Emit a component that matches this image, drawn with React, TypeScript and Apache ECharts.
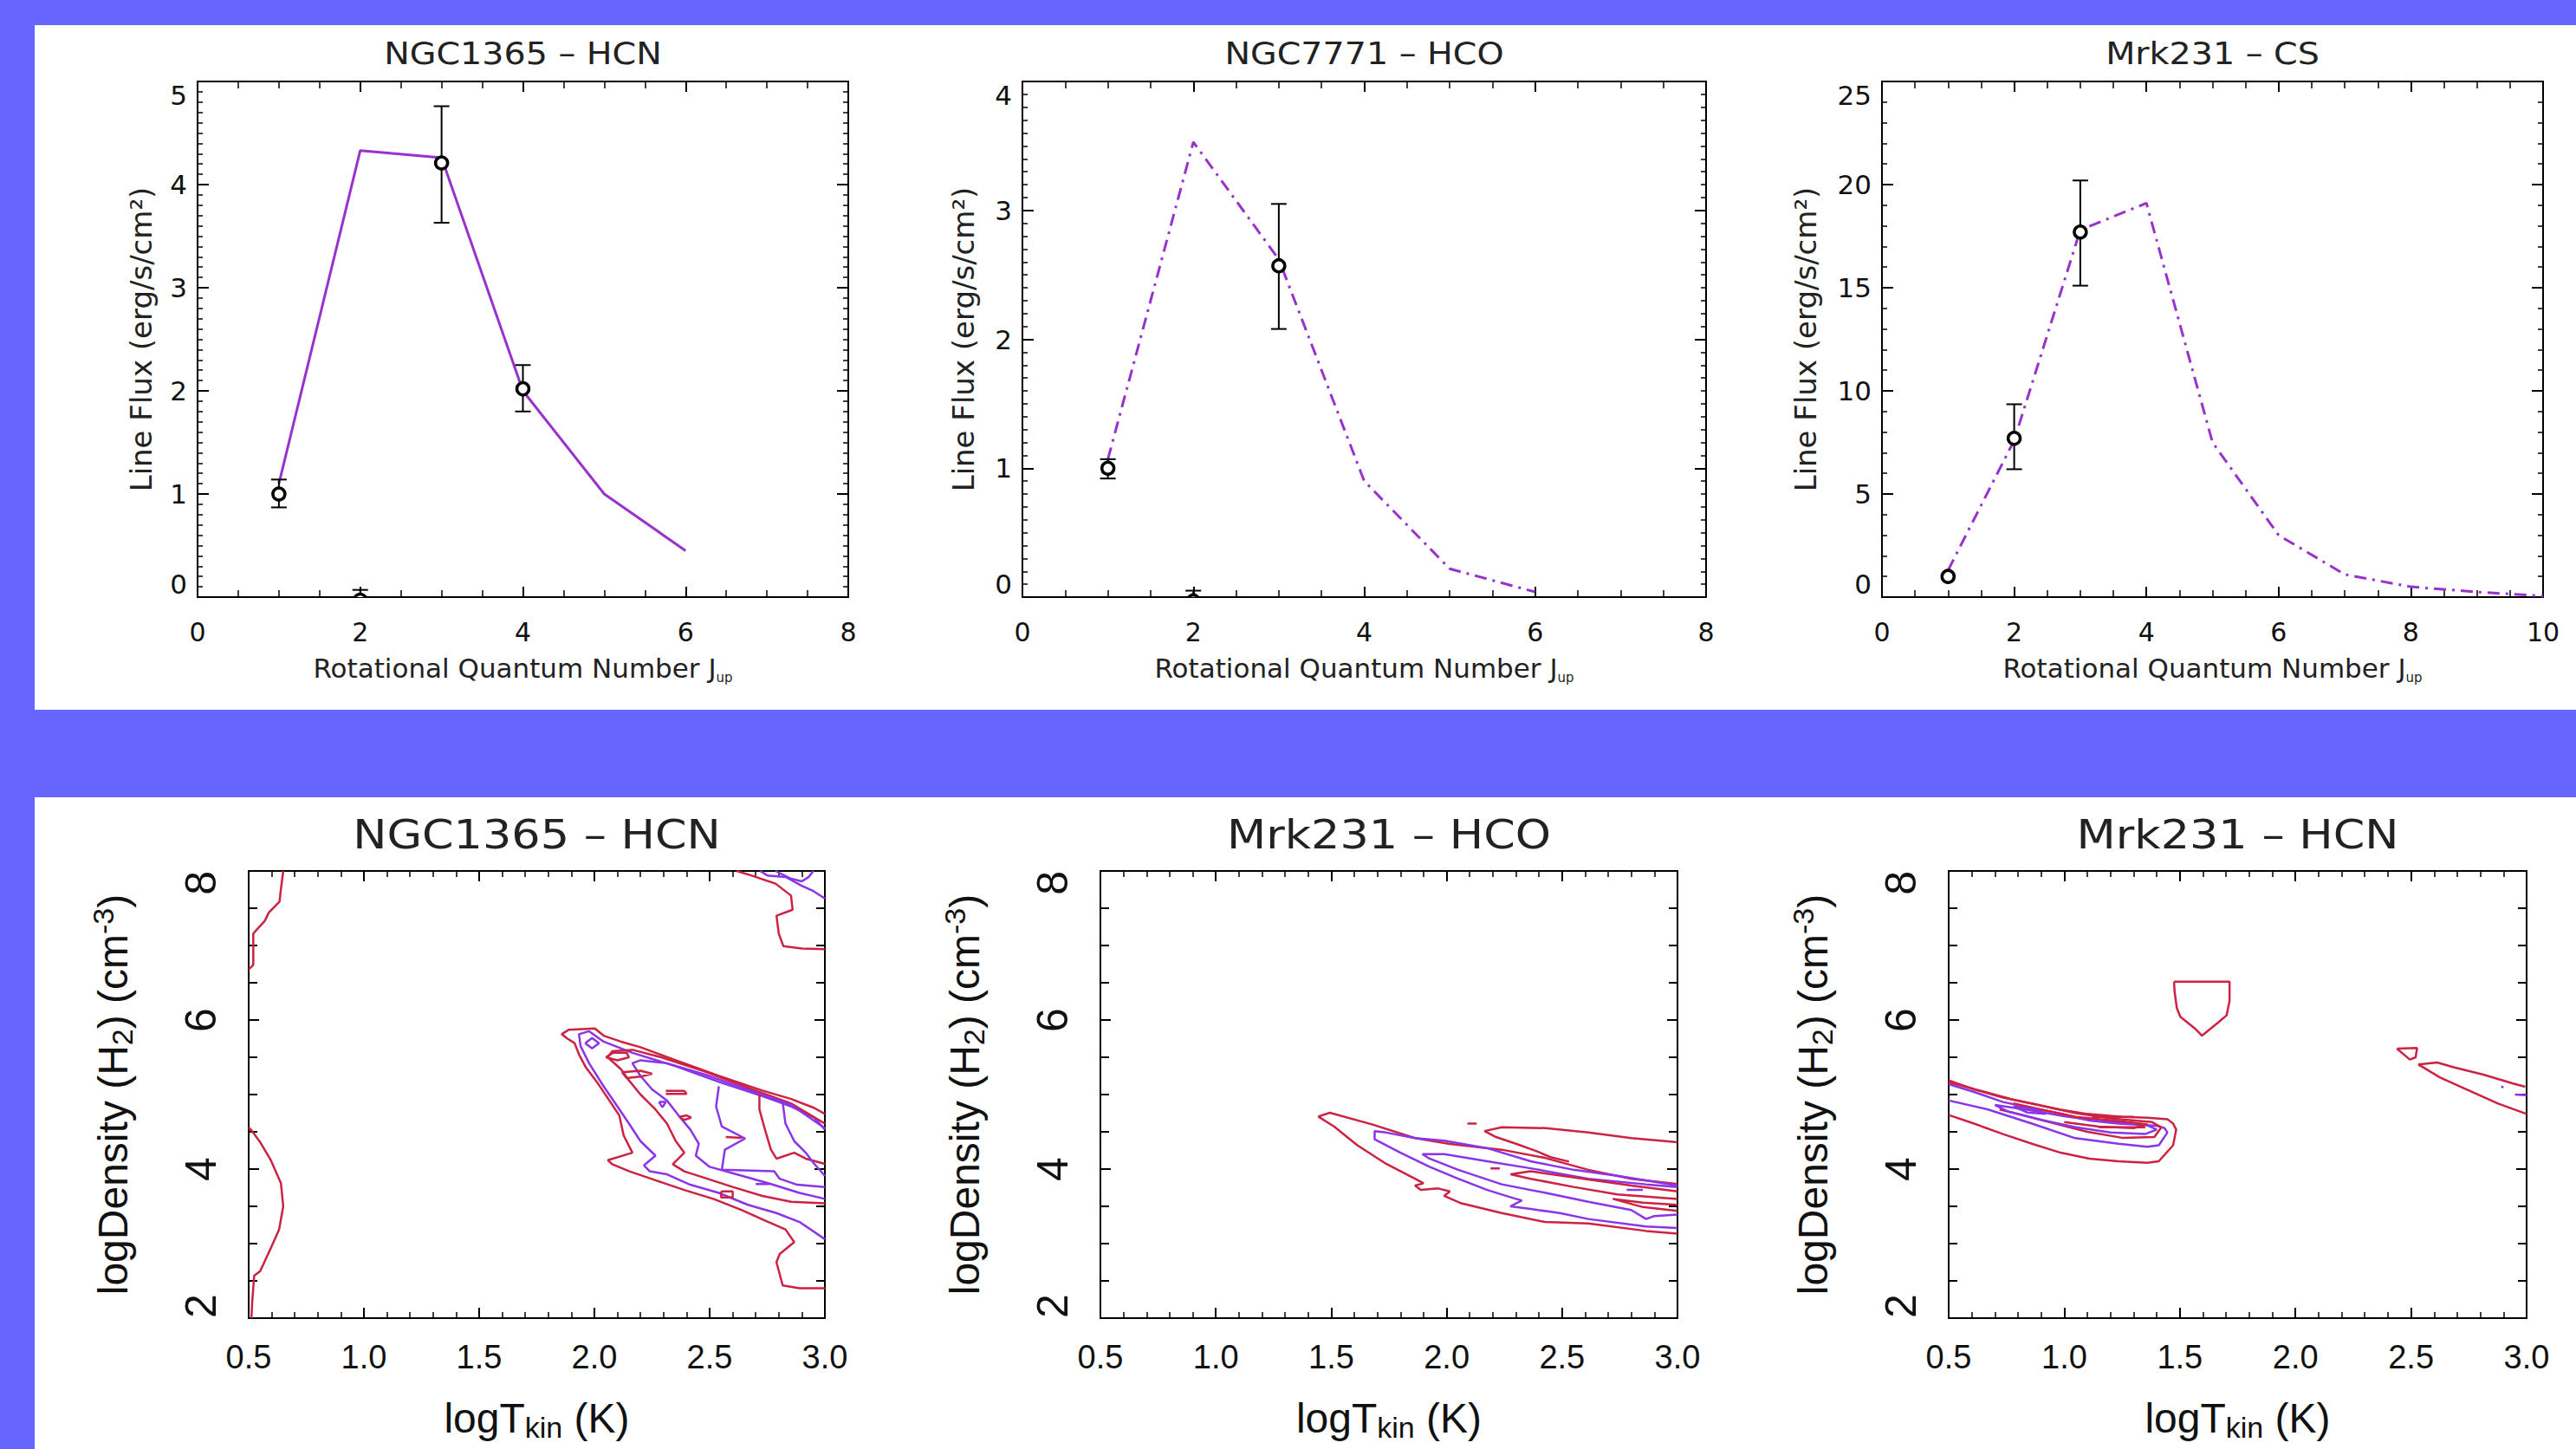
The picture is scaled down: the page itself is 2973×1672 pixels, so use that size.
import React, { useEffect, useRef } from 'react';
import * as echarts from 'echarts';

// ---------------- data: top row (line flux vs J_up) ----------------
const t1Title = 'NGC1365 – HCN';
const t1ModelJ = [1, 2, 3, 4, 5, 6];
const t1Model = [1.1, 4.33, 4.26, 2.0, 1.0, 0.45];
// [J, flux, errLow, errHigh]
const t1Obs = [[1, 1.0, 0.87, 1.14], [2, -0.03, -0.1, 0.07], [3, 4.21, 3.63, 4.76], [4, 2.02, 1.8, 2.25]];

const t2Title = 'NGC7771 – HCO';
const t2ModelJ = [1, 2, 3, 4, 5, 6];
const t2Model = [1.07, 3.53, 2.62, 0.9, 0.22, 0.04];
const t2Obs = [[1, 1.0, 0.92, 1.07], [2, -0.03, -0.1, 0.05], [3, 2.57, 2.08, 3.05]];

const t3Title = 'Mrk231 – CS';
const t3ModelJ = [1, 2, 3, 4, 5, 6, 7, 8, 9, 10];
const t3Model = [1.3, 7.6, 17.8, 19.1, 7.5, 3.0, 1.1, 0.5, 0.25, 0.05];
const t3Obs = [[1, 1.0, 1.0, 1.0], [2, 7.7, 6.2, 9.35], [3, 17.7, 15.1, 20.2]];

// ---------------- data: bottom row (contours, [logTkin, logDensity]) ----------------
const b1Title = 'NGC1365 – HCN';
const b1LeftLowR = [[0.512, 2.0], [0.515, 2.2], [0.524, 2.57], [0.55, 2.63], [0.596, 2.94], [0.632, 3.19], [0.65, 3.5], [0.64, 3.81], [0.596, 4.12], [0.548, 4.37], [0.512, 4.52], [0.5, 4.56]];
const b1LeftUpR = [[0.65, 8.0], [0.638, 7.71], [0.634, 7.59], [0.587, 7.44], [0.57, 7.33], [0.537, 7.22], [0.52, 7.16], [0.52, 6.74], [0.504, 6.69], [0.5, 6.69]];
const b1TopRightR = [[2.617, 8.0], [2.68, 7.94], [2.786, 7.83], [2.853, 7.67], [2.86, 7.48], [2.79, 7.4], [2.8, 7.16], [2.82, 6.99], [2.9, 6.96], [3.0, 6.95]];
const b1TopRightP = [[2.72, 8.0], [2.75, 7.94], [2.83, 7.92], [2.9, 7.8], [2.95, 7.73], [3.0, 7.63]];
const b1TopRightP2 = [[2.786, 8.0], [2.85, 7.9], [2.9, 7.86], [2.93, 7.92], [2.95, 8.0]];
const b1OuterR = [[3.0, 4.74], [2.954, 4.82], [2.854, 4.94], [2.729, 5.054], [2.54, 5.25], [2.353, 5.46], [2.2, 5.635], [2.115, 5.71], [2.04, 5.79], [2.002, 5.887], [1.889, 5.87], [1.858, 5.81], [1.883, 5.75], [1.914, 5.69], [1.933, 5.54], [1.964, 5.36], [2.015, 5.15], [2.065, 4.92], [2.108, 4.72], [2.127, 4.45], [2.165, 4.22], [2.058, 4.12], [2.077, 4.065], [2.152, 3.97], [2.265, 3.85], [2.39, 3.72], [2.516, 3.6], [2.64, 3.45], [2.74, 3.31], [2.829, 3.19], [2.867, 3.02], [2.804, 2.86], [2.79, 2.75], [2.817, 2.44], [2.89, 2.4], [3.0, 2.4]];
const b1P1 = [[3.0, 4.53], [2.954, 4.69], [2.854, 4.84], [2.729, 4.98], [2.54, 5.17], [2.353, 5.38], [2.165, 5.56], [2.04, 5.71], [1.977, 5.85], [1.933, 5.81], [1.94, 5.65], [1.977, 5.42], [2.04, 5.11], [2.1, 4.84], [2.15, 4.61], [2.2, 4.375], [2.265, 4.18], [2.215, 4.05], [2.24, 3.97], [2.315, 3.93], [2.416, 3.79], [2.54, 3.68], [2.666, 3.52], [2.79, 3.41], [2.89, 3.29], [3.0, 3.06]];
const b1R2 = [[3.0, 4.61], [2.854, 4.88], [2.666, 5.09], [2.478, 5.31], [2.29, 5.5], [2.165, 5.6], [2.077, 5.58], [2.058, 5.5], [2.115, 5.34], [2.15, 5.19], [2.2, 5.0], [2.265, 4.8], [2.315, 4.61], [2.353, 4.375], [2.39, 4.22], [2.34, 4.065], [2.39, 3.97], [2.49, 3.87], [2.6, 3.76], [2.729, 3.64], [2.854, 3.56], [3.0, 3.54]];
const b1P2 = [[3.0, 4.55], [2.854, 4.86], [2.666, 5.065], [2.478, 5.27], [2.315, 5.42], [2.2, 5.46], [2.165, 5.42], [2.2, 5.25], [2.25, 5.07], [2.315, 4.92], [2.365, 4.72], [2.416, 4.53], [2.453, 4.34], [2.44, 4.18], [2.5, 4.03], [2.64, 3.91], [2.766, 3.8], [2.89, 3.68], [3.0, 3.6]];
const b1P3 = [[2.54, 5.11], [2.528, 4.84], [2.553, 4.57], [2.654, 4.41], [2.566, 4.26], [2.553, 3.99], [2.78, 3.97], [2.804, 3.87], [2.88, 3.79], [3.0, 3.76]];
const b1R4 = [[2.716, 5.0], [2.716, 4.8], [2.74, 4.53], [2.766, 4.26], [2.79, 4.14], [2.867, 4.22], [2.917, 4.14], [3.0, 4.07]];
const b1P4 = [[2.816, 4.92], [2.829, 4.61], [2.867, 4.375], [2.917, 4.22], [2.954, 4.07], [3.0, 3.91]];
const b1DiamondP = [[1.96, 5.69], [1.99, 5.76], [2.02, 5.69], [1.99, 5.62], [1.96, 5.69]];
const b1BoxR = [[2.05, 5.5], [2.08, 5.56], [2.14, 5.56], [2.15, 5.5], [2.1, 5.46], [2.05, 5.5]];
const b1ZigR = [[2.12, 5.3], [2.2, 5.32], [2.25, 5.28], [2.2, 5.24], [2.14, 5.22], [2.12, 5.3]];
const b1DashR = [[2.31, 5.05], [2.39, 5.05], [2.4, 5.01], [2.31, 5.01]];
const b1DotR = [[2.37, 4.7], [2.4, 4.72], [2.42, 4.69], [2.39, 4.66], [2.37, 4.7]];
const b1TriP = [[2.28, 4.9], [2.31, 4.9], [2.295, 4.83], [2.28, 4.9]];
const b1Dash2R = [[2.57, 4.43], [2.64, 4.42]];
const b1RectR = [[2.55, 3.7], [2.6, 3.7], [2.6, 3.62], [2.55, 3.62], [2.55, 3.7]];
const b1DashP = [[2.7, 3.8], [2.76, 3.8]];

const b2Title = 'Mrk231 – HCO';
const b2OuterR = [[3.0, 3.135], [2.864, 3.17], [2.614, 3.27], [2.426, 3.29], [2.239, 3.41], [2.064, 3.54], [1.989, 3.64], [2.014, 3.7], [1.964, 3.74], [1.888, 3.72], [1.863, 3.78], [1.9, 3.81], [1.863, 3.87], [1.738, 4.07], [1.613, 4.32], [1.513, 4.57], [1.444, 4.705], [1.494, 4.756], [1.676, 4.6], [1.863, 4.415], [2.014, 4.337], [2.239, 4.26], [2.426, 4.15], [2.614, 3.99], [2.8, 3.87], [3.0, 3.8]];
const b2UpperR = [[2.53, 4.1], [2.45, 4.16], [2.39, 4.24], [2.3, 4.34], [2.214, 4.43], [2.164, 4.51], [2.239, 4.56], [2.43, 4.55], [2.614, 4.49], [2.8, 4.415], [3.0, 4.36]];
const b2DashR = [[2.09, 4.61], [2.13, 4.61]];
const b2P1 = [[3.0, 3.78], [2.74, 3.91], [2.55, 3.99], [2.364, 4.105], [2.176, 4.28], [1.99, 4.38], [1.863, 4.415], [1.738, 4.49], [1.688, 4.51], [1.688, 4.4], [1.8, 4.22], [1.926, 4.03], [2.05, 3.87], [2.176, 3.72], [2.3, 3.6], [2.326, 3.58], [2.276, 3.5], [2.364, 3.465], [2.49, 3.41], [2.614, 3.33], [2.864, 3.23], [3.0, 3.21]];
const b2P2 = [[3.0, 3.76], [2.864, 3.795], [2.614, 3.87], [2.364, 4.01], [2.176, 4.105], [1.99, 4.2], [1.895, 4.2], [1.926, 4.14], [2.05, 3.99], [2.239, 3.795], [2.43, 3.68], [2.614, 3.56], [2.8, 3.45], [2.864, 3.33], [2.9, 3.37], [3.0, 3.39]];
const b2R2 = [[3.0, 3.7], [2.8, 3.78], [2.614, 3.86], [2.364, 3.97], [2.277, 3.93], [2.364, 3.87], [2.55, 3.76], [2.74, 3.66], [3.0, 3.6]];
const b2R3 = [[3.0, 3.52], [2.85, 3.55], [2.72, 3.6], [2.85, 3.49], [3.0, 3.44]];
const b2Dash2R = [[2.19, 4.01], [2.23, 4.01]];
const b2DashP = [[2.78, 3.72], [2.85, 3.72]];

const b3Title = 'Mrk231 – HCN';
const b3OuterR = [[0.5, 5.19], [0.61, 5.07], [0.735, 4.96], [0.86, 4.88], [0.98, 4.8], [1.1, 4.74], [1.25, 4.7], [1.36, 4.69], [1.446, 4.67], [1.471, 4.61], [1.484, 4.53], [1.471, 4.32], [1.409, 4.105], [1.359, 4.085], [1.234, 4.105], [1.109, 4.14], [0.984, 4.22], [0.86, 4.34], [0.735, 4.47], [0.61, 4.61], [0.5, 4.725]];
const b3P1 = [[0.5, 5.14], [0.61, 5.035], [0.735, 4.9], [0.86, 4.82], [0.984, 4.745], [1.109, 4.65], [1.234, 4.61], [1.4, 4.58], [1.434, 4.55], [1.446, 4.49], [1.409, 4.32], [1.359, 4.3], [1.234, 4.34], [1.047, 4.415], [0.86, 4.61], [0.67, 4.8], [0.5, 4.92]];
const b3R2 = [[0.5, 5.165], [0.65, 5.04], [0.78, 4.93], [0.9, 4.85], [1.05, 4.75], [1.2, 4.68], [1.38, 4.63], [1.42, 4.56], [1.39, 4.43], [1.25, 4.42], [1.1, 4.5], [0.95, 4.62], [0.8, 4.74], [0.72, 4.8]];
const b3P2 = [[0.7, 4.86], [0.85, 4.79], [1.0, 4.71], [1.15, 4.645], [1.35, 4.6], [1.4, 4.53], [1.35, 4.47], [1.2, 4.49], [1.05, 4.56], [0.9, 4.66], [0.76, 4.77], [0.7, 4.86]];
const b3R3 = [[0.78, 4.88], [0.9, 4.8], [1.05, 4.7], [1.25, 4.64], [1.36, 4.6], [1.3, 4.55], [1.15, 4.57], [1.0, 4.63]];
const b3BlobP = [[0.78, 4.84], [0.88, 4.8], [0.92, 4.74], [0.84, 4.76], [0.78, 4.84]];
const b3DashR = [[1.12, 4.7], [1.3, 4.7]];
const b3Dash2R = [[1.15, 4.56], [1.35, 4.56]];
const b3ShieldR = [[1.475, 6.515], [1.715, 6.515], [1.715, 6.256], [1.702, 6.062], [1.665, 5.965], [1.596, 5.79], [1.565, 5.887], [1.502, 6.043], [1.487, 6.159], [1.477, 6.39], [1.475, 6.515]];
const b3TriR = [[2.439, 5.616], [2.526, 5.624], [2.52, 5.5], [2.495, 5.469], [2.439, 5.616]];
const b3RightR = [[2.994, 5.105], [2.938, 5.151], [2.813, 5.267], [2.688, 5.364], [2.613, 5.43], [2.532, 5.403], [2.626, 5.229], [2.751, 5.054], [2.876, 4.88], [3.0, 4.74]];
const b3RightP = [[2.95, 5.0], [3.0, 4.99]];
const b3DotP = [[2.89, 5.105], [2.9, 5.1]];

// ---------------- styling ----------------
const BLUE = '#6666ff';
const RED = '#cc2244';
const PUR = '#8a35e8';
const MODEL = '#9932cc';
const TOP_FONT = '"DejaVu Sans", sans-serif';
const BOT_FONT = '"Liberation Sans", Arial, sans-serif';
const AX = { color: '#000', width: 2 };

const TOP_RICH = {
  n: { fontFamily: TOP_FONT, fontSize: 31, color: '#222', lineHeight: 36, verticalAlign: 'middle' },
  s: { fontFamily: TOP_FONT, fontSize: 15, color: '#222', lineHeight: 15, verticalAlign: 'bottom' },
};
const TOP_RICH_Y = {
  n: { fontFamily: TOP_FONT, fontSize: 34, color: '#222', lineHeight: 36, verticalAlign: 'middle' },
};
const BOT_RICH = {
  n: { fontFamily: BOT_FONT, fontSize: 48, color: '#111', lineHeight: 56, verticalAlign: 'middle' },
  s: { fontFamily: BOT_FONT, fontSize: 34, color: '#111', lineHeight: 34, verticalAlign: 'bottom' },
  p: { fontFamily: BOT_FONT, fontSize: 34, color: '#111', lineHeight: 34, verticalAlign: 'top' },
};

const grids = [
  { left: 228, top: 94, width: 751, height: 595 },
  { left: 1180, top: 94, width: 789, height: 595 },
  { left: 2172, top: 94, width: 763, height: 595 },
  { left: 287, top: 1005, width: 665, height: 516 },
  { left: 1270, top: 1005, width: 666, height: 516 },
  { left: 2249, top: 1005, width: 667, height: 516 },
];

function topAxes(g: number, xMax: number, yMax: number, yInt: number, yMinor: number, yGap: number) {
  const xBase: any = {
    type: 'value', gridIndex: g, min: 0, max: xMax, interval: 2,
    axisLine: { show: true, onZero: false, lineStyle: AX },
    axisTick: { show: true, inside: true, length: 12, lineStyle: AX },
    minorTick: { show: true, splitNumber: 4, length: 8, lineStyle: { color: '#000', width: 1.5 } },
    splitLine: { show: false }, minorSplitLine: { show: false },
  };
  const yBase: any = {
    type: 'value', gridIndex: g, min: 0, max: yMax, interval: yInt,
    axisLine: { show: true, onZero: false, lineStyle: AX },
    axisTick: { show: true, inside: true, length: 13, lineStyle: AX },
    minorTick: { show: true, splitNumber: yMinor, length: 6, lineStyle: { color: '#000', width: 1.5 } },
    splitLine: { show: false }, minorSplitLine: { show: false },
  };
  return {
    x: [
      {
        ...xBase, position: 'bottom',
        axisLabel: { show: true, margin: 25, fontSize: 30, fontFamily: TOP_FONT, color: '#111' },
        name: '{n|Rotational Quantum Number J}{s|up}', nameLocation: 'middle', nameGap: 64,
        nameTextStyle: { rich: TOP_RICH },
      },
      { ...xBase, position: 'top', axisLabel: { show: false } },
    ],
    y: [
      {
        ...yBase, position: 'left',
        axisLabel: { show: true, margin: 12, fontSize: 31, fontFamily: TOP_FONT, color: '#111', verticalAlignMinLabel: 'bottom', verticalAlignMaxLabel: 'top' },
        name: '{n|Line Flux (erg/s/cm²)}', nameLocation: 'middle', nameRotate: 90, nameGap: yGap,
        nameTextStyle: { rich: TOP_RICH_Y },
      },
      { ...yBase, position: 'right', axisLabel: { show: false } },
    ],
  };
}

function botAxes(g: number) {
  const xBase: any = {
    type: 'value', gridIndex: g, min: 0.5, max: 3.0, interval: 0.5,
    axisLine: { show: true, onZero: false, lineStyle: AX },
    axisTick: { show: true, inside: true, length: 12, lineStyle: AX },
    minorTick: { show: true, splitNumber: 5, length: 7, lineStyle: { color: '#000', width: 1.5 } },
    splitLine: { show: false }, minorSplitLine: { show: false },
  };
  const yBase: any = {
    type: 'value', gridIndex: g, min: 2, max: 8, interval: 2,
    axisLine: { show: true, onZero: false, lineStyle: AX },
    axisTick: { show: true, inside: true, length: 12, lineStyle: AX },
    minorTick: { show: true, splitNumber: 4, length: 10, lineStyle: { color: '#000', width: 2 } },
    splitLine: { show: false }, minorSplitLine: { show: false },
  };
  return {
    x: [
      {
        ...xBase, position: 'bottom',
        axisLabel: { show: true, margin: 26, fontSize: 38, fontFamily: BOT_FONT, color: '#111', formatter: (v: number) => v.toFixed(1) },
        name: '{n|logT}{s|kin}{n| (K)}', nameLocation: 'middle', nameGap: 87,
        nameTextStyle: { rich: BOT_RICH },
      },
      { ...xBase, position: 'top', axisLabel: { show: false } },
    ],
    y: [
      {
        ...yBase, position: 'left',
        axisLabel: {
          show: true, margin: 30, rotate: 90, fontSize: 50, fontFamily: BOT_FONT, color: '#111',
          alignMinLabel: 'left', alignMaxLabel: 'right',
        },
        name: '{n|logDensity (H}{s|2}{n|) (cm}{p|-3}{n|)}', nameLocation: 'middle', nameRotate: 90, nameGap: 129,
        nameTextStyle: { rich: BOT_RICH },
      },
      { ...yBase, position: 'right', axisLabel: { show: false } },
    ],
  };
}

const renderObs = (params: any, api: any) => {
  const x = api.value(0), y = api.value(1), lo = api.value(2), hi = api.value(3);
  const c = api.coord([x, y]);
  const a = api.coord([x, lo]);
  const b = api.coord([x, hi]);
  const st = { stroke: '#000', lineWidth: 2 };
  const children: any[] = [];
  if (Math.abs(a[1] - b[1]) > 2) {
    children.push({ type: 'line', shape: { x1: c[0], y1: a[1], x2: c[0], y2: b[1] }, style: st });
    children.push({ type: 'line', shape: { x1: c[0] - 9, y1: a[1], x2: c[0] + 9, y2: a[1] }, style: st });
    children.push({ type: 'line', shape: { x1: c[0] - 9, y1: b[1], x2: c[0] + 9, y2: b[1] }, style: st });
  }
  children.push({ type: 'circle', shape: { cx: c[0], cy: c[1], r: 7 }, style: { fill: '#fff', stroke: '#000', lineWidth: 3.5 } });
  return { type: 'group', children };
};

function topSeries(g: number, js: number[], model: number[], obs: number[][], dashed: boolean) {
  return [
    {
      type: 'line', xAxisIndex: g * 2, yAxisIndex: g * 2,
      data: js.map((j, i) => [j, model[i]]),
      showSymbol: false, symbol: 'none', silent: true, z: 3, clip: true,
      lineStyle: { color: MODEL, width: 3, type: dashed ? [14, 7, 3, 7] : 'solid' },
    },
    {
      type: 'custom', xAxisIndex: g * 2, yAxisIndex: g * 2, data: obs,
      renderItem: renderObs, clip: true, z: 5, silent: true, encode: { x: 0, y: 1 },
    },
  ];
}

function contourSeries(g: number, lines: [string, number[][]][]) {
  return lines.map(([color, pts]) => ({
    type: 'line', xAxisIndex: g * 2, yAxisIndex: g * 2, data: pts,
    showSymbol: false, symbol: 'none', silent: true, z: 3, clip: true,
    lineStyle: { color, width: 2.5 },
  }));
}

function titleText(text: string, x: number, y: number, size: number, sx: number) {
  return {
    type: 'text', x, y, scaleX: sx, z: 10, silent: true,
    style: {
      text, font: `${size}px "DejaVu Sans", sans-serif`, fill: '#222',
      textAlign: 'center', textVerticalAlign: 'middle', align: 'center', verticalAlign: 'middle',
    },
  };
}

function buildOption() {
  const a0 = topAxes(0, 8, 5, 1, 10, 47);
  const a1 = topAxes(1, 8, 4, 1, 10, 50);
  const a2 = topAxes(2, 10, 25, 5, 5, 70);
  const a3 = botAxes(3);
  const a4 = botAxes(4);
  const a5 = botAxes(5);
  const all = [a0, a1, a2, a3, a4, a5];

  const series: any[] = [
    ...topSeries(0, t1ModelJ, t1Model, t1Obs, false),
    ...topSeries(1, t2ModelJ, t2Model, t2Obs, true),
    ...topSeries(2, t3ModelJ, t3Model, t3Obs, true),
    ...contourSeries(3, [
      [RED, b1LeftLowR], [RED, b1LeftUpR], [RED, b1TopRightR], [PUR, b1TopRightP], [PUR, b1TopRightP2],
      [RED, b1OuterR], [PUR, b1P1], [RED, b1R2], [PUR, b1P2], [PUR, b1P3], [RED, b1R4], [PUR, b1P4],
      [PUR, b1DiamondP], [RED, b1BoxR], [RED, b1ZigR], [RED, b1DashR], [RED, b1DotR], [PUR, b1TriP],
      [RED, b1Dash2R], [RED, b1RectR], [PUR, b1DashP],
    ]),
    ...contourSeries(4, [
      [RED, b2OuterR], [RED, b2UpperR], [RED, b2DashR], [PUR, b2P1], [PUR, b2P2], [RED, b2R2], [RED, b2R3],
      [RED, b2Dash2R], [PUR, b2DashP],
    ]),
    ...contourSeries(5, [
      [RED, b3OuterR], [PUR, b3P1], [RED, b3R2], [PUR, b3P2], [RED, b3R3], [PUR, b3BlobP], [RED, b3DashR],
      [RED, b3Dash2R], [RED, b3ShieldR], [RED, b3TriR], [RED, b3RightR], [PUR, b3RightP], [PUR, b3DotP],
    ]),
  ];

  const centerX = (g: number) => grids[g].left + grids[g].width / 2;

  return {
    animation: false,
    backgroundColor: BLUE,
    grid: grids.map((g) => ({ ...g, containLabel: false })),
    xAxis: all.flatMap((a) => a.x),
    yAxis: all.flatMap((a) => a.y),
    series,
    graphic: [
      { type: 'rect', shape: { x: 40, y: 29, width: 2933, height: 790 }, style: { fill: '#fff' }, z: -10, silent: true },
      { type: 'rect', shape: { x: 40, y: 920, width: 2933, height: 752 }, style: { fill: '#fff' }, z: -10, silent: true },
      titleText(t1Title, centerX(0), 62, 36, 1.1),
      titleText(t2Title, centerX(1), 62, 36, 1.1),
      titleText(t3Title, centerX(2), 62, 36, 1.1),
      titleText(b1Title, centerX(3), 963, 46, 1.14),
      titleText(b2Title, centerX(4), 963, 46, 1.14),
      titleText(b3Title, centerX(5), 963, 46, 1.14),
    ],
  };
}

export default function App() {
  const ref = useRef<HTMLDivElement>(null);
  useEffect(() => {
    if (!ref.current) return;
    const chart = echarts.init(ref.current, null, { renderer: 'svg', width: 2973, height: 1672 });
    chart.setOption(buildOption() as any);
    return () => chart.dispose();
  }, []);
  return (
    <div
      ref={ref}
      style={{ position: 'absolute', left: 0, top: 0, width: 2973, height: 1672, background: BLUE }}
    />
  );
}
